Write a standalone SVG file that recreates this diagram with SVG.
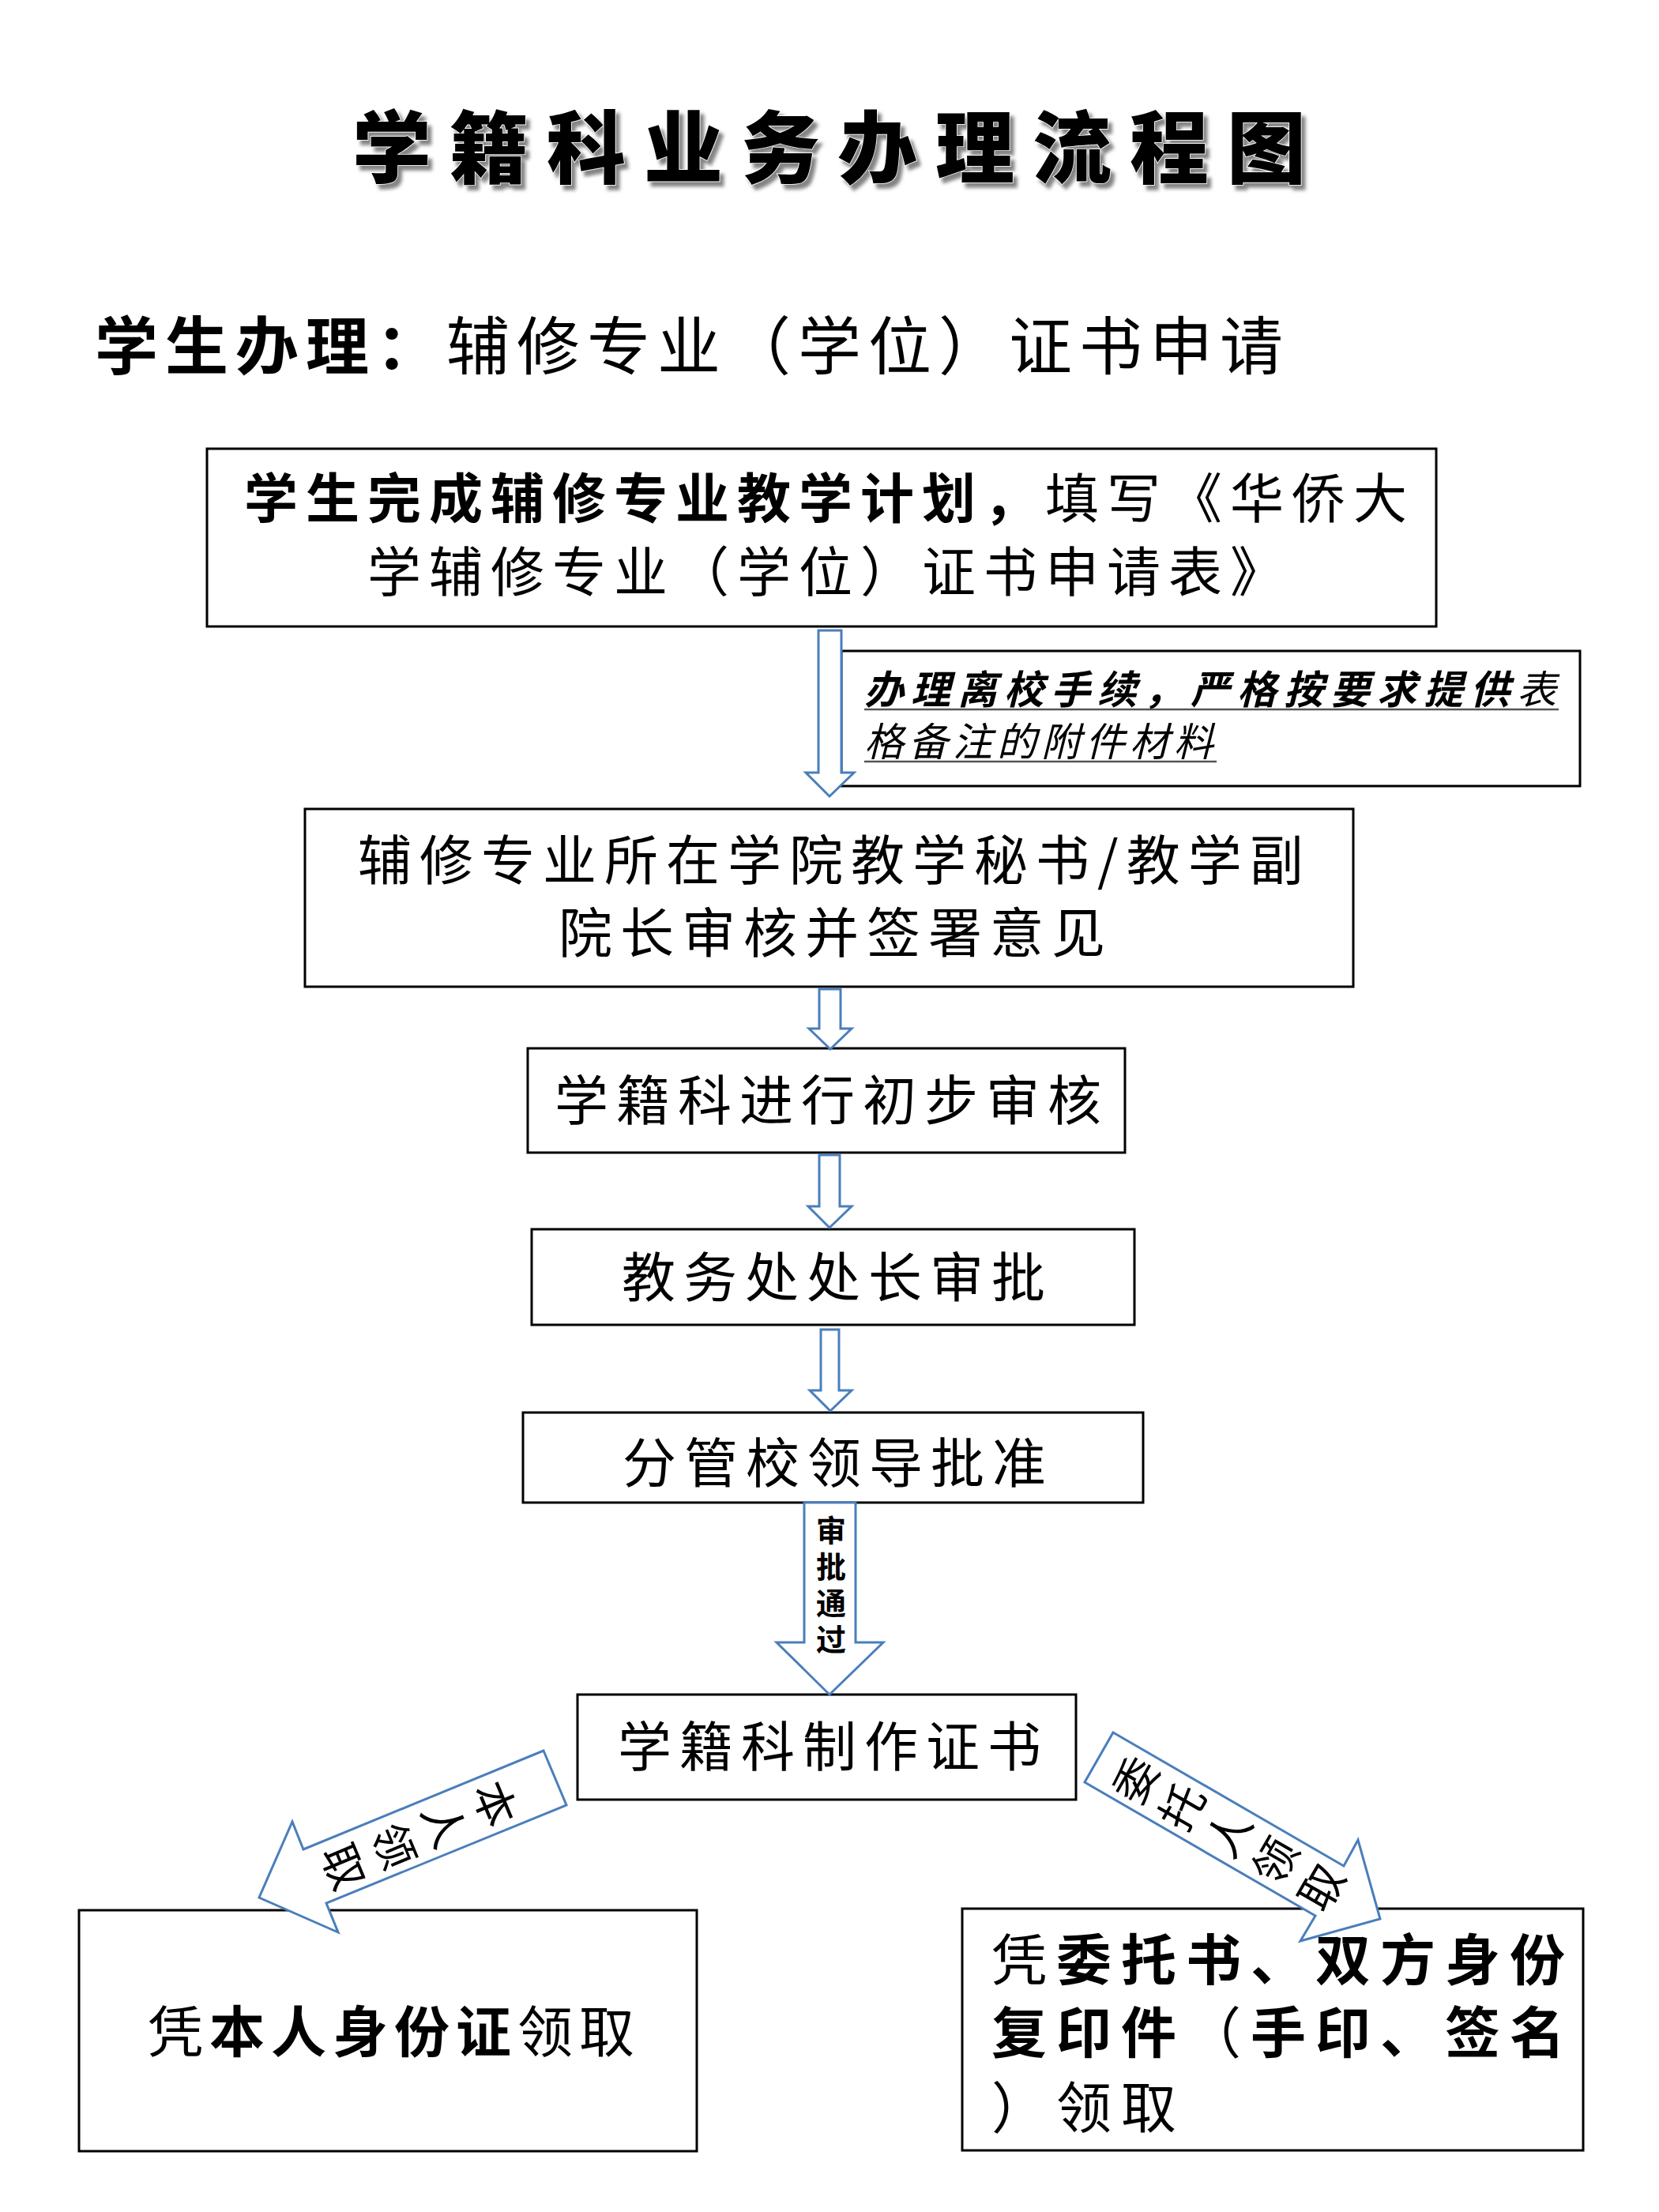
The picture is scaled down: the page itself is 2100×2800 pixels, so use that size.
<svg xmlns="http://www.w3.org/2000/svg" width="2100" height="2800" viewBox="0 0 2100 2800">
<defs>
<style>
.t{font-family:'Noto Sans CJK SC','Noto Sans CJK JP',sans-serif;fill:#000}
.n{font-weight:400}
.b{font-weight:700}
.box{fill:#fff;stroke:#000;stroke-width:3}
.arr{fill:#fff;stroke:#4A7EBB;stroke-width:3;stroke-linejoin:miter}
.ul{stroke:#555;stroke-width:2.5}
</style>
<filter id="sh" x="-10%" y="-20%" width="120%" height="150%">
<feDropShadow dx="5" dy="6" stdDeviation="2" flood-color="#777" flood-opacity="0.9"/>
</filter>
</defs>
<rect width="2100" height="2800" fill="#fff"/>

<g id="title">
<text class="t" x="446" y="224" font-size="100" font-weight="900" letter-spacing="23" filter="url(#sh)" stroke="#fff" stroke-width="1.5" paint-order="stroke">学籍科业务办理流程图</text>
</g>

<g id="subtitle">
<text class="t" x="120" y="467" font-size="80" letter-spacing="9"><tspan class="b">学生办理：</tspan><tspan class="n">辅修专业（学位）证书申请</tspan></text>
</g>

<g id="node1">
<rect class="box" x="262" y="568" width="1556" height="225"/>
<text class="t" x="309" y="656" font-size="68" letter-spacing="10"><tspan class="b">学生完成辅修专业教学计划，</tspan><tspan class="n">填写《华侨大</tspan></text>
<text class="t n" x="465" y="749" font-size="68" letter-spacing="10">学辅修专业（学位）证书申请表》</text>
</g>

<g id="note">
<rect class="box" x="1065" y="824" width="935" height="171"/>
<text class="t" x="1094" y="891" font-size="50" letter-spacing="9" font-style="italic"><tspan class="b">办理离校手续，严格按要求提供</tspan><tspan class="n">表</tspan></text>
<line class="ul" x1="1094" y1="898" x2="1973" y2="898"/>
<text class="t n" x="1094" y="957" font-size="50" letter-spacing="6" font-style="italic">格备注的附件材料</text>
<line class="ul" x1="1094" y1="964" x2="1540" y2="964"/>
</g>

<g id="node2">
<rect class="box" x="386" y="1024" width="1327" height="225"/>
<text class="t n" x="453" y="1114" font-size="68" letter-spacing="10">辅修专业所在学院教学秘书/教学副</text>
<text class="t n" x="707" y="1206" font-size="68" letter-spacing="10">院长审核并签署意见</text>
</g>

<g id="node3">
<rect class="box" x="668" y="1327" width="756" height="132"/>
<text class="t n" x="702" y="1418" font-size="68" letter-spacing="10">学籍科进行初步审核</text>
</g>

<g id="node4">
<rect class="box" x="673" y="1556" width="763" height="121"/>
<text class="t n" x="787" y="1642" font-size="68" letter-spacing="10">教务处处长审批</text>
</g>

<g id="node5">
<rect class="box" x="662" y="1788" width="785" height="114"/>
<text class="t n" x="788" y="1877" font-size="68" letter-spacing="10">分管校领导批准</text>
</g>

<g id="node6">
<rect class="box" x="731" y="2145" width="631" height="133"/>
<text class="t n" x="782" y="2236" font-size="68" letter-spacing="10">学籍科制作证书</text>
</g>

<g id="node7">
<rect class="box" x="100" y="2418" width="782" height="305"/>
<text class="t" x="187" y="2598" font-size="70" letter-spacing="8"><tspan class="n">凭</tspan><tspan class="b">本人身份证</tspan><tspan class="n">领取</tspan></text>
</g>

<g id="node8">
<rect class="box" x="1218" y="2416" width="786" height="306"/>
<text class="t" x="1255" y="2507" font-size="70" letter-spacing="12"><tspan class="n">凭</tspan><tspan class="b">委托书、双方身份</tspan></text>
<text class="t" x="1255" y="2599" font-size="70" letter-spacing="12"><tspan class="b">复印件</tspan><tspan class="n">（</tspan><tspan class="b">手印、签名</tspan></text>
<text class="t n" x="1255" y="2694" font-size="70" letter-spacing="12">）领取</text>
</g>

<g id="connectors">
<polygon class="arr" points="1036,798 1065,798 1065,978 1081,978 1050,1008 1020,978 1036,978"/>
<polygon class="arr" points="1037,1252 1064,1252 1064,1302 1078,1302 1051,1328 1024,1302 1037,1302"/>
<polygon class="arr" points="1037,1462 1063,1462 1063,1527 1078,1527 1050,1554 1023,1527 1037,1527"/>
<polygon class="arr" points="1039,1683 1062,1683 1062,1760 1078,1760 1051,1786 1025,1760 1039,1760"/>
<polygon class="arr" points="1018,1902 1083,1902 1083,2079 1118,2079 1050,2145 983,2079 1018,2079"/>
<text class="t b" x="1052" y="1918" font-size="38" letter-spacing="8" style="writing-mode:vertical-rl">审批通过</text>
<polygon class="arr" points="688,2216 717,2285 413,2409 428,2446 328,2402 370,2306 384,2341"/>
<g transform="translate(531,2323) rotate(67.4)">
<text class="t n" font-size="56" text-anchor="middle"><tspan x="0" y="-82.5">本</tspan><tspan x="0" y="-13.5">人</tspan><tspan x="0" y="55.5">领</tspan><tspan x="0" y="124.5">取</tspan></text>
</g>
<polygon class="arr" points="1409,2193 1373,2256 1665,2425 1646,2457 1747,2429 1719,2329 1701,2362"/>
<g transform="translate(1555,2321) rotate(-60)">
<text class="t n" font-size="56" text-anchor="middle"><tspan x="0" y="-115">委</tspan><tspan x="0" y="-47">托</tspan><tspan x="0" y="21">人</tspan><tspan x="0" y="89">领</tspan><tspan x="0" y="157">取</tspan></text>
</g>
</g>
</svg>
